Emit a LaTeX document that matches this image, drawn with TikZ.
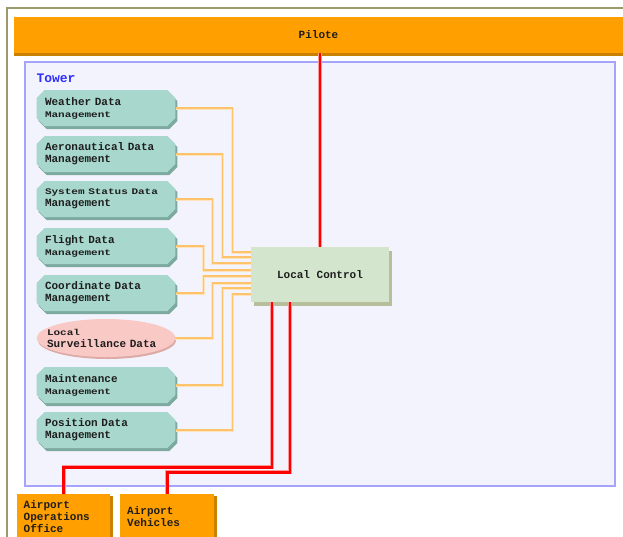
\documentclass[tikz,border=0pt]{standalone}
\usepackage{fontspec}
\newfontfamily\pixfont{Liberation Mono}
\usetikzlibrary{shapes.misc,shapes.geometric,shadows}

\newcommand{\lowline}[1]{\scalebox{1}[0.78]{#1}}

\begin{document}
\begin{tikzpicture}[
  x=1pt, y=-1pt,
  font=\pixfont\bfseries\fontsize{11}{12}\selectfont,
  text=inkDark,
  databox/.style={chamfered rectangle, chamfered rectangle xsep=5pt, fill=dataTeal,
    minimum width=138pt, minimum height=36pt, align=left, text width=122pt,
    drop shadow={shadow xshift=2pt, shadow yshift=-3pt, fill=tealShadow, opacity=1}},
  survbox/.style={ellipse, fill=survPink, minimum width=138pt, minimum height=38pt,
    inner xsep=-10pt, inner ysep=0pt, align=left, text width=118pt,
    drop shadow={shadow xshift=1pt, shadow yshift=-2pt, fill=pinkShadow, opacity=1}},
  ctrlbox/.style={rectangle, fill=ctrlGreen, minimum width=138pt, minimum height=55pt,
    drop shadow={shadow xshift=3pt, shadow yshift=-4pt, fill=ctrlShadow, opacity=1}},
  pilotbar/.style={rectangle, fill=pilotOrange, minimum width=609pt, minimum height=36pt,
    drop shadow={shadow xshift=0pt, shadow yshift=-3pt, fill=pilotShadow, opacity=1}},
  airbox/.style={rectangle, fill=pilotOrange, anchor=north west, minimum width=93pt,
    minimum height=44pt, align=left, text width=80pt,
    drop shadow={shadow xshift=3pt, shadow yshift=-2pt, fill=pilotShadow, opacity=1}},
  towerlabel/.style={font=\pixfont\bfseries\fontsize{13}{15}\selectfont, text=towerText, anchor=west},
  feed/.style={draw=feedHalo, line width=3pt, postaction={draw=feedCore, line width=1.3pt}},
  link/.style={draw=linkHalo, line width=4pt, postaction={draw=red, line width=2.6pt}},
]

\definecolor{inkDark}{HTML}{1E1E1E}
\definecolor{frameOlive}{HTML}{9A9A6C}
\definecolor{pilotOrange}{HTML}{FF9F00}
\definecolor{pilotShadow}{HTML}{C98200}
\definecolor{towerLine}{HTML}{A4A4FF}
\definecolor{towerFill}{HTML}{F3F3FE}
\definecolor{towerText}{HTML}{2E2EFF}
\definecolor{dataTeal}{HTML}{A8D8CD}
\definecolor{tealShadow}{HTML}{7DAA9F}
\definecolor{survPink}{HTML}{F9C9C6}
\definecolor{pinkShadow}{HTML}{DDAAA6}
\definecolor{ctrlGreen}{HTML}{D3E6CD}
\definecolor{ctrlShadow}{HTML}{B6BE9C}
\definecolor{feedHalo}{HTML}{FFE3BE}
\definecolor{feedCore}{HTML}{FFC36C}
\definecolor{linkHalo}{HTML}{FF9A9A}

\useasboundingbox (0,0) rectangle (623,536);

% Outer frame and tower area.
\draw[draw=frameOlive, line width=1.2pt] (7,545) |- (630,8);
\draw[draw=towerLine, fill=towerFill, line width=1.5pt] (25,62) rectangle (615,486);
\node[towerlabel] (towerlbl) at (33,78) {Tower};

% Pilot bar.
\node[pilotbar] (pilot) at (318.5,35) {Pilote};

% Data sources.
\node[databox] (wx) at (106,108) {Weather Data\\\lowline{Management}};
\node[databox] (aero) at (106,154) {Aeronautical Data\\Management};
\node[databox] (sys) at (106,199) {\lowline{System Status Data}\\Management};
\node[databox] (flt) at (106,246) {Flight Data\\\lowline{Management}};
\node[databox] (coord) at (106,293) {Coordinate Data\\Management};
\node[survbox] (surv) at (106,338) {\lowline{Local}\\Surveillance Data};
\node[databox] (maint) at (106,385) {Maintenance\\\lowline{Management}};
\node[databox] (pos) at (106,430) {Position Data\\Management};

% Local control.
\node[ctrlbox] (lc) at (320,274.5) {Local Control};

% Airport side.
\node[airbox] (ops) at (17,494) {Airport\\Operations\\Office};
\node[airbox, minimum width=94pt] (veh) at (120,494) {Airport\\Vehicles};

% Feeds into local control.
\foreach \n/\dx/\dy in {wx/57/22.5, aero/47/17.5, sys/37/11.5, flt/28/4.5,
                        coord/28/-1.5, surv/37/-8.5, maint/47/-13.5, pos/57/-19.5}
  \draw[feed] (\n.east) -- ++(\dx,0) |- ([yshift=\dy pt]lc.west);

% Voice links.
\draw[link] (lc.north |- pilot.south) -- (lc.north);
\draw[link] ([xshift=-48pt]lc.south) -- ++(0,165) -| (ops.north);
\draw[link] ([xshift=-30pt]lc.south) -- ++(0,170) -| (veh.north);

\end{tikzpicture}
\end{document}
